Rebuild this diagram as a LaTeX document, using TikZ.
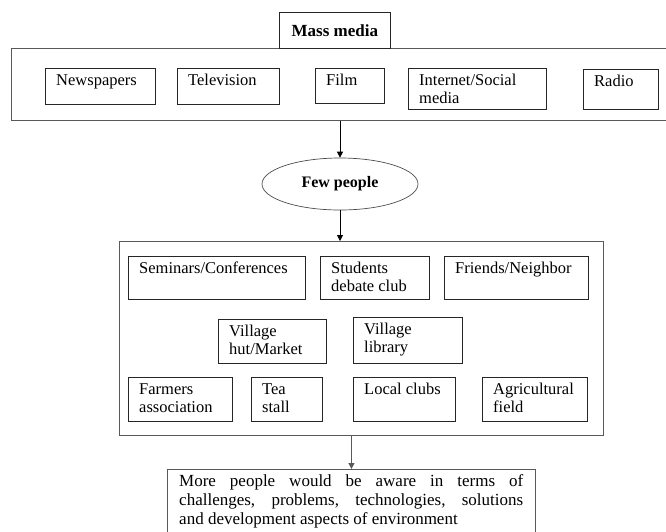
\documentclass[tikz,border=0pt]{standalone}
\usepackage{fontspec}
\setmainfont{Liberation Serif}
\usetikzlibrary{arrows.meta,shapes.geometric}
\begin{document}
\begin{tikzpicture}[x=1pt, y=-1pt,
    group/.style={draw=black!65, line width=0.9pt, anchor=north west, inner sep=0pt},
    medbox/.style={draw=black!85, line width=0.8pt, anchor=north west, inner sep=0pt},
    boxtext/.style={anchor=north west, align=left, inner xsep=11pt, inner ysep=6pt,
      font=\fontsize{16.5}{18}\selectfont},
    arr/.style={-{Triangle[length=6pt,width=6pt]}, line width=0.8pt}]
  \useasboundingbox (0,0) rectangle (666,531);
  \clip (0,0) rectangle (666,531);
  % mass media
  \node[group, minimum width=672, minimum height=72] (media) at (11,48) {};
  \node[medbox, minimum width=111, minimum height=36,
    font=\bfseries\fontsize{17}{19}\selectfont] (mass) at (279,12) {Mass media};
  \foreach \bn/\bx/\by/\bw/\bh/\btxt in {news/45/68/110/36/Newspapers,
      tv/177/68/102/36/Television, film/315/68/69/35/Film,
      net/408/68/138/41/{Internet/Social\\media}, radio/583/69/75/40/Radio}
    \node[medbox, minimum width=\bw, minimum height=\bh,
      label={[boxtext, name=\bn-t]north west:\btxt}] (\bn) at (\bx,\by) {};
  \node[ellipse, draw=black!70, line width=0.7pt, minimum width=156, minimum height=52,
    inner sep=0pt, font=\bfseries\fontsize{16}{18}\selectfont] (few) at (340,184) {Few people};
  \draw[arr] (few.north |- media.south) -- (few.north);
  % channels
  \node[group, minimum width=484, minimum height=194] (chan) at (119,241) {};
  \draw[arr] (few.south) -- (few.south |- chan.north);
  \foreach \bn/\bx/\by/\bw/\bh/\btxt in {sem/128/256/177/43/{Seminars/Conferences},
      deb/320/256/109/43/{Students\\debate club}, friends/444/256/144/43/{Friends/Neighbor},
      hut/218/319/108/44/{Village\\hut/Market}, lib/353/317/109/46/{Village\\library},
      farm/128/377/104/44/{Farmers\\association}, tea/251/377/71/44/{Tea\\stall},
      club/353/377/102/44/{Local clubs}, field/482/377/105/44/{Agricultural\\field}}
    \node[medbox, minimum width=\bw, minimum height=\bh,
      label={[boxtext, name=\bn-t]north west:\btxt}] (\bn) at (\bx,\by) {};
  % outcome
  \node[group, minimum width=368, minimum height=80,
    label={[boxtext, name=aware-t, text width=344pt, align=justify, inner xsep=12pt,
      inner ysep=5pt, font=\fontsize{17}{19}\selectfont]north west:More people would be aware in terms of\linebreak
      challenges, problems, technologies, solutions\linebreak and development aspects of environment}]
    (aware) at (167,469) {};
  \draw[arr, draw=black!65] (aware.north |- chan.south) -- (aware.north);
\end{tikzpicture}
\end{document}
